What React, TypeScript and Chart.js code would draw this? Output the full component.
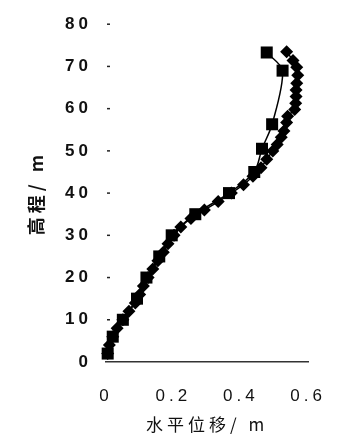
import React, { useEffect, useRef } from "react";
import { Chart, registerables } from "chart.js";

Chart.register(...registerables);

// Series 1 (square markers): elevation (m) and horizontal displacement (m)
const squareHeights = [73.3, 69, 56.3, 50.5, 45, 40, 35, 30, 25, 20, 15, 10, 6, 2];
const squareDisp = [0.477, 0.524, 0.493, 0.463, 0.44, 0.365, 0.265, 0.195, 0.158, 0.12, 0.092, 0.05, 0.02, 0.005];

// Series 2 (diamond markers)
const diamondHeights = [
  73.5, 71.4, 69.8, 67.9, 66, 64.4, 62.9, 61.3, 59.8,
  58.2, 56.7, 54.7, 53.2,
  51.5, 50, 48, 46, 44, 42, 40,
  38, 36, 34, 32, 30,
  28, 26, 24, 22, 20,
  18, 16, 14, 12, 10,
  8, 6, 4, 2,
];
const diamondDisp = [
  0.536, 0.555, 0.566, 0.569, 0.566, 0.564, 0.564, 0.563, 0.56,
  0.539, 0.536, 0.528, 0.52,
  0.508, 0.495, 0.477, 0.46, 0.436, 0.408, 0.372,
  0.333, 0.292, 0.252, 0.222, 0.202,
  0.184, 0.17, 0.154, 0.139, 0.125,
  0.111, 0.1, 0.087, 0.068, 0.05,
  0.033, 0.02, 0.01, 0.005,
];

const xTicks = [0, 0.2, 0.4, 0.6];
const yTicks = [0, 10, 20, 30, 40, 50, 60, 70, 80];
const xTitle = "水平位移/ m";
const yTitle = "高程/ m";

const letterSpacingPlugin = {
  id: "letterSpacing",
  beforeUpdate(chart: any) {
    chart.ctx.letterSpacing = "4px";
  },
  beforeLayout(chart: any) {
    chart.ctx.letterSpacing = "4px";
  },
  beforeDraw(chart: any) {
    chart.ctx.letterSpacing = "4px";
  },
};

const tickDashPlugin = {
  id: "tickDashes",
  afterDraw(chart: any) {
    const ys = chart.scales.y;
    const ctx = chart.ctx;
    const left = chart.chartArea.left;
    ctx.save();
    ctx.strokeStyle = "#222";
    ctx.lineWidth = 1.5;
    ys.ticks.forEach((t: any, i: number) => {
      if (t.value === 0) return;
      const py = ys.getPixelForTick(i);
      ctx.beginPath();
      ctx.moveTo(left + 1, py);
      ctx.lineTo(left + 4, py);
      ctx.stroke();
    });
    ctx.restore();
  },
};

export default function App() {
  const canvasRef = useRef<HTMLCanvasElement | null>(null);

  useEffect(() => {
    if (!canvasRef.current) return;
    const squares = squareHeights.map((h, i) => ({ x: squareDisp[i], y: h }));
    const diamonds = diamondHeights.map((h, i) => ({ x: diamondDisp[i], y: h }));

    const chart = new Chart(canvasRef.current, {
      type: "scatter",
      data: {
        datasets: [
          {
            label: "S1",
            data: squares,
            showLine: true,
            borderColor: "#000",
            backgroundColor: "#000",
            borderWidth: 1.5,
            pointStyle: "rect",
            pointRadius: 8.5,
            pointBorderWidth: 0,
            tension: 0.3,
            clip: false,
          },
          {
            label: "S2",
            data: diamonds,
            showLine: true,
            borderColor: "#000",
            backgroundColor: "#000",
            borderWidth: 1.5,
            pointStyle: "rectRot",
            pointRadius: 6.5,
            pointBorderWidth: 0,
            tension: 0.3,
            clip: false,
          },
        ],
      },
      options: {
        animation: false,
        responsive: true,
        maintainAspectRatio: false,
        layout: { padding: { top: 18, right: 18, bottom: 0, left: 0 } },
        plugins: {
          legend: { display: false },
          tooltip: { enabled: false },
        },
        scales: {
          x: {
            type: "linear",
            min: 0,
            max: 0.6,
            afterBuildTicks: (s: any) => {
              s.ticks = xTicks.map((v) => ({ value: v }));
            },
            afterFit: (s: any) => {
              s.height = 82;
            },
            grid: { display: false, drawTicks: false },
            border: { display: true, color: "#333", width: 1.5 },
            ticks: {
              padding: 24,
              color: "#111",
              font: { family: "'Liberation Sans', Arial, sans-serif", size: 17 },
              callback: (v: any) => (Number(v) === 0 ? "0" : Number(v).toFixed(1)),
            },
            title: {
              display: true,
              text: xTitle,
              color: "#111",
              font: { family: "'Noto Sans CJK SC', sans-serif", size: 17 },
              padding: { top: 0, bottom: 9 },
            },
          },
          y: {
            type: "linear",
            min: 0,
            max: 80,
            afterBuildTicks: (s: any) => {
              s.ticks = yTicks.map((v) => ({ value: v }));
            },
            afterFit: (s: any) => {
              s.width = 106;
            },
            grid: { display: false, drawTicks: false },
            border: { display: false },
            ticks: {
              padding: 14,
              color: "#111",
              font: { family: "'Liberation Sans', Arial, sans-serif", size: 17, weight: "bold" },
            },
            title: {
              display: true,
              text: yTitle,
              color: "#111",
              font: { family: "'Noto Sans CJK SC', sans-serif", size: 18, weight: "bold" },
              padding: { top: 25, bottom: 0 },
            },
          },
        },
      },
      plugins: [letterSpacingPlugin, tickDashPlugin],
    } as any);

    return () => chart.destroy();
  }, []);

  return (
    <div style={{ position: "fixed", top: 0, left: 0, width: 350, height: 444, background: "#fff" }}>
      <canvas ref={canvasRef} />
    </div>
  );
}
